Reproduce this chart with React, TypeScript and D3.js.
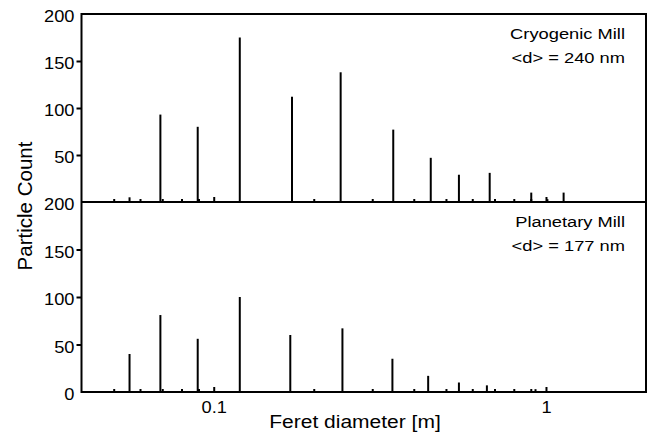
import React, { useEffect, useRef } from "react";
import * as d3 from "d3";

// Cryogenic mill histogram (upper panel)
const cryoDiameters = [0.0558, 0.0691, 0.0895, 0.1198, 0.172, 0.241, 0.347, 0.45, 0.547, 0.677, 0.903, 1.01, 1.13];
const cryoCounts = [5, 93, 80, 175, 112, 138, 77, 47, 29, 31, 10, 3, 10];

// Planetary mill histogram (lower panel)
const planDiameters = [0.0558, 0.0691, 0.0895, 0.1198, 0.17, 0.244, 0.345, 0.442, 0.547, 0.664, 0.93];
const planCounts = [40, 81, 56, 100, 60, 67, 35, 17, 10, 7, 3];

const yTicks = [0, 50, 100, 150, 200];
const xMajorTicks = [0.1, 1];
const panelTitles = ["Cryogenic Mill", "Planetary Mill"];
const panelMeans = ["<d> = 240 nm", "<d> = 177 nm"];

const FONT = "'Liberation Sans', Arial, sans-serif";

// widen glyphs a bit, the source picture is stretched horizontally
const stretch = (sel: any, k: number) => {
  sel.each(function (this: SVGTextElement) {
    const len = this.getComputedTextLength();
    this.setAttribute("textLength", String(len * k));
    this.setAttribute("lengthAdjust", "spacingAndGlyphs");
  });
};

const App = () => {
  const svgRef = useRef<SVGSVGElement>(null);

  useEffect(() => {
    const w = 649;
    const h = 439;
    const left = 81.5;
    const right = 646;
    const top = 14;
    const mid = 202;
    const bottom = 392;

    const svg = d3.select(svgRef.current).attr("width", w).attr("height", h);
    svg.selectAll("*").remove();

    const x = d3.scaleLog().domain([0.04, 2]).range([left, right]);
    const yUp = d3.scaleLinear().domain([0, 200]).range([mid, top]);
    const yLow = d3.scaleLinear().domain([0, 200]).range([bottom, mid]);

    const panels = [
      { y: yUp, d: cryoDiameters, c: cryoCounts, base: mid, top: top },
      { y: yLow, d: planDiameters, c: planCounts, base: bottom, top: mid },
    ];

    const minorTicks = x.ticks().filter((t) => xMajorTicks.indexOf(t) < 0 && t > 0.04 && t < 2);

    panels.forEach((p, pi) => {
      const g = svg.append("g");
      // bars
      g.selectAll("line.bar")
        .data(p.d)
        .join("line")
        .attr("class", "bar")
        .attr("x1", (d) => x(d))
        .attr("x2", (d) => x(d))
        .attr("y1", p.y(0))
        .attr("y2", (d, i) => p.y(p.c[i]))
        .attr("stroke", "#000")
        .attr("stroke-width", 2);

      // inward x ticks at panel bottom
      g.append("g")
        .attr("transform", `translate(0,${p.base})`)
        .call(d3.axisBottom(x).tickValues(minorTicks).tickSize(-3).tickFormat(() => ""))
        .call((a) => a.select(".domain").remove())
        .call((a) => a.selectAll("line").attr("stroke-width", 2));

      const major = g
        .append("g")
        .attr("transform", `translate(0,${p.base})`)
        .call(
          d3
            .axisBottom(x)
            .tickValues(xMajorTicks)
            .tickSize(-5)
            .tickPadding(10)
            .tickFormat((d) => (pi === 1 ? String(d) : ""))
        )
        .call((a) => a.select(".domain").remove());
      major.selectAll("line").attr("stroke-width", 2);
      major
        .selectAll("text")
        .attr("font-family", FONT)
        .attr("font-size", 16)
        .attr("fill", "#000")
        .call(stretch, 1.14);

      // y axis
      const ya = g
        .append("g")
        .attr("transform", `translate(${left},0)`)
        .call(
          d3
            .axisLeft(p.y)
            .tickValues(pi === 0 ? yTicks.slice(1) : yTicks)
            .tickSize(5)
            .tickPadding(2)
        )
        .call((a) => a.select(".domain").remove());
      ya.selectAll(".tick line")
        .attr("stroke-width", 2)
        .attr("stroke", (d: any) => (d === 0 || d === 200 ? "none" : "#000"));
      ya.selectAll("text")
        .attr("font-family", FONT)
        .attr("font-size", 16)
        .attr("fill", "#000")
        .attr("dy", "0.48em")
        .call(stretch, 1.14);

      // panel annotation
      g.append("text")
        .attr("x", 625)
        .attr("y", p.top + 25)
        .attr("text-anchor", "end")
        .attr("font-family", FONT)
        .attr("font-size", 15.5)
        .text(panelTitles[pi])
        .call(stretch, 1.18);
      g.append("text")
        .attr("x", 625)
        .attr("y", p.top + 49)
        .attr("text-anchor", "end")
        .attr("font-family", FONT)
        .attr("font-size", 15.5)
        .text(panelMeans[pi])
        .call(stretch, 1.18);
    });

    // frame and divider
    svg
      .append("rect")
      .attr("x", left)
      .attr("y", top)
      .attr("width", right - left)
      .attr("height", bottom - top)
      .attr("fill", "none")
      .attr("stroke", "#000")
      .attr("stroke-width", 2);
    svg
      .append("line")
      .attr("x1", left)
      .attr("x2", right)
      .attr("y1", mid)
      .attr("y2", mid)
      .attr("stroke", "#000")
      .attr("stroke-width", 2);

    // axis titles
    svg
      .append("text")
      .attr("x", 355)
      .attr("y", 428)
      .attr("text-anchor", "middle")
      .attr("font-family", FONT)
      .attr("font-size", 17.5)
      .text("Feret diameter [m]")
      .call(stretch, 1.2);

    svg
      .append("text")
      .attr("transform", `translate(31.5,206) rotate(-90)`)
      .attr("text-anchor", "middle")
      .attr("font-family", FONT)
      .attr("font-size", 20.5)
      .text("Particle Count");
  }, []);

  return <svg ref={svgRef} style={{ position: "absolute", left: 0, top: 0, display: "block" }}></svg>;
};

export default App;
